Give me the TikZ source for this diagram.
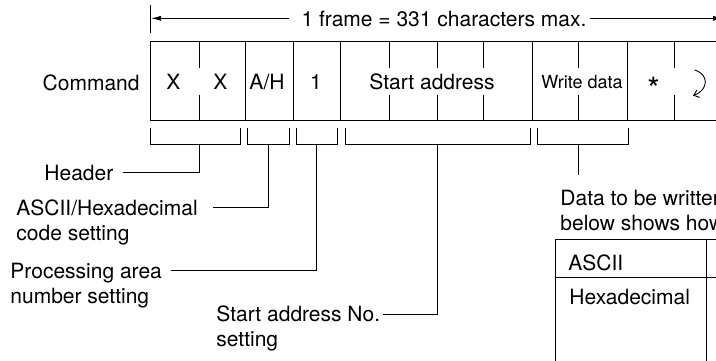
\documentclass[tikz,border=0pt]{standalone}
\usepackage{fontspec}
\setmainfont{TeX Gyre Heros}
\usetikzlibrary{arrows.meta}
\begin{document}
\begin{tikzpicture}[x=1pt,y=-1pt,line width=0.9pt,
  big/.style={font=\fontsize{21}{25}\selectfont},
  lbl/.style={big,inner sep=0pt,align=left,anchor=base west},
  cell/.style={big,inner sep=0pt,anchor=base},
  dimarrow/.style={-{Latex[length=10pt,width=5pt]}},
  brace/.style={line width=0.9pt}]
\useasboundingbox (0,0) rectangle (716,360);
\clip (0,0) rectangle (716,360);

% ---- dimension line ----
\node[cell] (frame) at (444,26) {1 frame = 331 characters max.};
\coordinate (tickT) at (150,5);
\coordinate (tickB) at (150,33);
\draw (tickT) -- (tickB);
\coordinate (leftTip) at (151,18.3);
\coordinate (rightTip) at (723,18.3);
\draw[dimarrow] ([xshift=-12pt]frame.west |- leftTip) -- (leftTip);
\draw[dimarrow] ([xshift=3pt]frame.east |- rightTip) -- (rightTip);

% ---- command frame ----
\node[big,inner sep=0pt,anchor=base east] (cmd) at (140,90.5) {Command};
\draw (720,41.5) -- (150,41.5) -- (150,120) -- (720,120);
\foreach \x in {245.3,293.7,340,532.3,627.3}
  \draw (\x,41.5) -- (\x,120);
\foreach \x in {199.3,389.3,437.5,483.3,578,674}{
  \draw (\x,41.5) -- (\x,68.3);
  \draw (\x,95.3) -- (\x,120);
}
\node[cell] (x1) at (173.5,89.5) {X};
\node[cell] (x2) at (220.5,89.5) {X};
\node[cell] (ah) at (267,89.5) {A/H};
\node[cell] (one) at (316,89.5) {1};
\node[cell] (sa) at (432,89.5) {Start address};
\node[font=\fontsize{18}{22}\selectfont,inner sep=0pt,anchor=base] (wd) at (582,88.5) {Write data};
\node[font=\fontsize{32}{36}\selectfont,inner sep=0pt,anchor=base] (star) at (653.5,100) {*};
\coordinate (crA) at (694.5,70);
\coordinate (crB) at (693,95.5);
\draw[-{Straight Barb[length=5pt,width=8pt]}] (crA) .. controls (709,74) and (709,90) .. (crB);

% ---- braces ----
\foreach \a/\b in {150/240, 247/289, 296/337, 345/530, 537/628}
  \draw[brace] (\a,128.3) -- (\a,144.3) -- (\b,144.3) -- (\b,128.3);
\coordinate (s1) at (199.3,144.3);
\coordinate (s2) at (268.7,144.3);
\coordinate (s3) at (316.7,144.3);
\coordinate (s4) at (437.7,144.3);
\coordinate (s5) at (578.7,144.3);

% ---- labels (base = baseline of the last line) ----
\node[lbl] (hdr) at (44,180.7) {Header};
\coordinate (hdrE) at (122.7,172.7);
\draw (hdrE) -| (s1);

\node[lbl] (asc) at (16,240) {ASCII/Hexadecimal\\code setting};
\coordinate (ascE) at (213,207);
\draw (ascE) -| (s2);

\node[lbl] (proc) at (10,303.5) {Processing area\\number setting};
\coordinate (procE) at (170.7,270);
\draw (procE) -| (s3);

\node[lbl] (sadr) at (216,346.5) {Start address No.\\setting};
\coordinate (sadrE) at (383.3,314);
\draw (sadrE) -| (s4);

\coordinate (dataT) at (578.7,175);
\draw (s5) -- (dataT);
\node[lbl] (data) at (560,230) {Data to be written\\below shows how};

% ---- table ----
\draw (720,239) -- (555,239) -- (555,365);
\draw (555,277.5) -- (720,277.5);
\draw (706.5,239) -- (706.5,365);
\node[lbl] (tascii) at (568,270) {ASCII};
\node[lbl] (thex) at (569,304) {Hexadecimal};
\end{tikzpicture}
\end{document}
